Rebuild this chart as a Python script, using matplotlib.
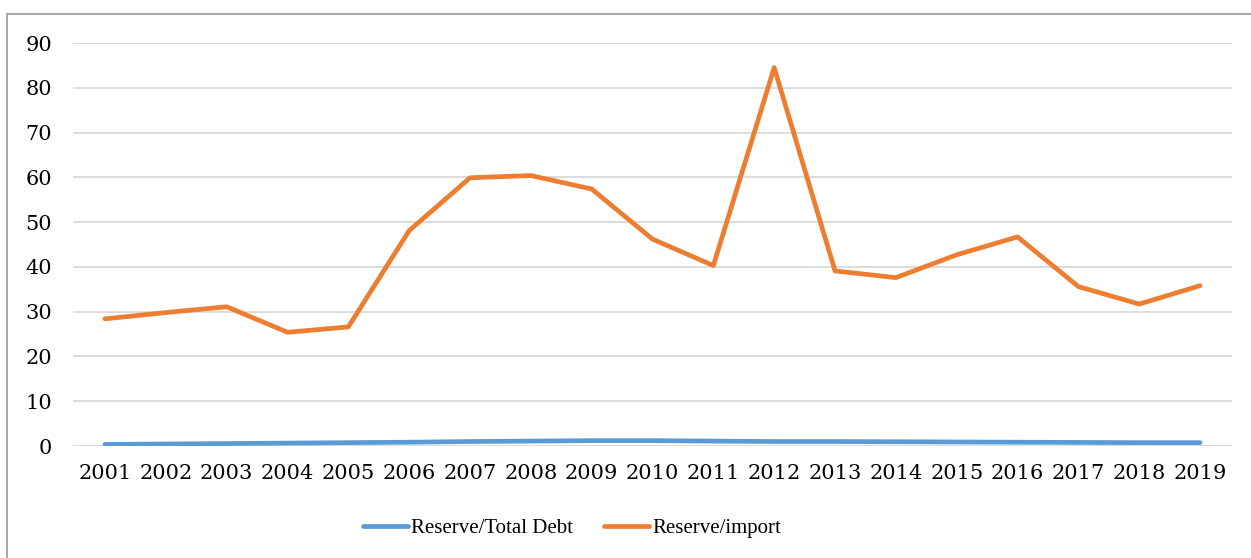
import matplotlib
matplotlib.use("Agg")
import matplotlib.pyplot as plt
from matplotlib.patches import Rectangle

years = [str(y) for y in range(2001, 2020)]
reserve_total_debt = [0.35, 0.45, 0.55, 0.65, 0.75, 0.85, 1.0, 1.1, 1.2, 1.2,
                      1.1, 1.0, 1.0, 0.95, 0.9, 0.85, 0.8, 0.75, 0.75]
reserve_import = [28.4, 29.8, 31.1, 25.4, 26.6, 48.1, 59.9, 60.4, 57.4, 46.2,
                  40.3, 84.5, 39.1, 37.6, 42.7, 46.7, 35.6, 31.7, 35.8]
yticks = list(range(0, 100, 10))

plt.rcParams['font.family'] = ['Liberation Serif', 'DejaVu Serif']

fig = plt.figure(figsize=(12.51, 5.58), dpi=100)
ax = fig.add_axes([0.0584, 0.2007, 0.9264, 0.7222])

x = list(range(len(years)))
ax.plot(x, reserve_total_debt, color='#5b9bd5', lw=3.4, solid_capstyle='round',
        solid_joinstyle='round', label='Reserve/Total Debt', zorder=3)
ax.plot(x, reserve_import, color='#ed7d31', lw=3.4, solid_capstyle='round',
        solid_joinstyle='round', label='Reserve/import', zorder=3)

ax.set_xlim(-0.525, len(years) - 0.475)
ax.set_ylim(0, 90)
ax.set_yticks(yticks)
ax.set_xticks(x)
ax.set_xticklabels(years)
ax.grid(axis='y', color='#d9d9d9', lw=1.3)
ax.set_axisbelow(True)
for s in ax.spines.values():
    s.set_visible(False)
ax.tick_params(axis='both', length=0, colors='black')
for lab in ax.get_xticklabels() + ax.get_yticklabels():
    lab.set_fontfamily('DejaVu Serif')
    lab.set_fontsize(15)
ax.tick_params(axis='y', pad=15)
ax.tick_params(axis='x', pad=13)

leg = fig.legend(loc='center', bbox_to_anchor=(572 / 1251, 1 - 528 / 558), ncol=2,
                 frameon=False, fontsize=15, handlelength=2.15, handletextpad=0.15,
                 columnspacing=1.5)
for h in leg.get_lines():
    h.set_linewidth(3.4)
    h.set_solid_capstyle('round')

fig.patches.append(Rectangle((7 / 1251, -0.1), 1.2, 1 - 14 / 558 + 0.1,
                             transform=fig.transFigure, fill=False,
                             edgecolor='#a0a0a0', lw=1.3))

fig.savefig('out.png', dpi=100)
